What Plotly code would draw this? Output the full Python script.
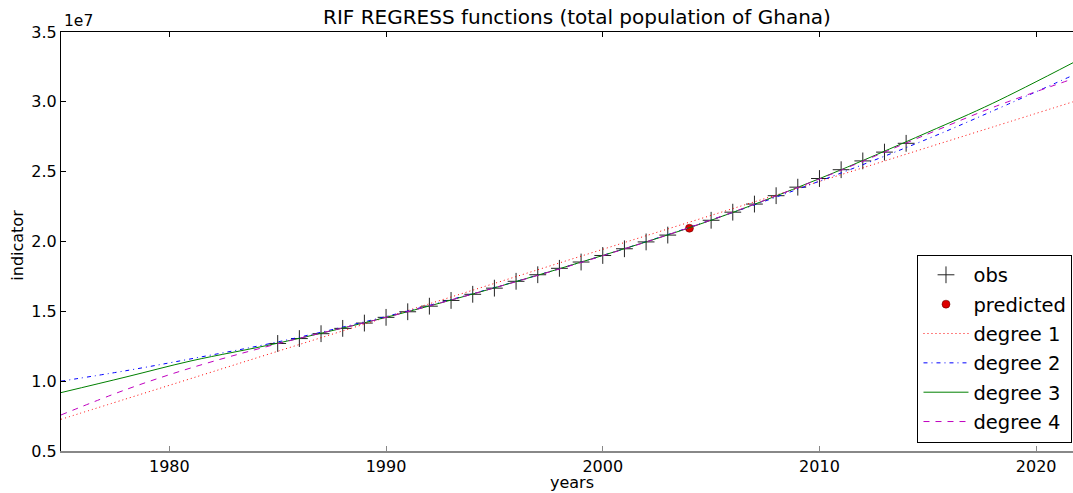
import plotly.graph_objects as go

# observed population (total population of Ghana), 2004 held out
obs_years = [1985, 1986, 1987, 1988, 1989, 1990, 1991, 1992, 1993, 1994,
             1995, 1996, 1997, 1998, 1999, 2000, 2001, 2002, 2003,
             2005, 2006, 2007, 2008, 2009, 2010, 2011, 2012, 2013, 2014]
obs_values = [12.70e6, 13.05e6, 13.40e6, 13.78e6, 14.16e6, 14.57e6, 14.97e6, 15.37e6,
              15.78e6, 16.22e6, 16.66e6, 17.15e6, 17.62e6, 18.08e6, 18.53e6, 19.00e6,
              19.48e6, 19.97e6, 20.46e6, 21.52e6, 22.10e6, 22.68e6, 23.28e6, 23.89e6,
              24.51e6, 25.14e6, 25.77e6, 26.40e6, 27.03e6]

pred_years = [2004]
pred_values = [20.95e6]

fit_years = [1975, 1978, 1981, 1985, 1990, 1995, 2000, 2005, 2010, 2015, 2018, 2021.7]
deg1_values = [7.27e6, 8.73e6, 10.19e6, 12.14e6, 14.57e6, 17.00e6, 19.44e6, 21.87e6,
               24.30e6, 26.74e6, 28.20e6, 30.00e6]
deg2_values = [10.00e6, 10.75e6, 11.60e6, 12.81e6, 14.63e6, 16.70e6, 19.00e6, 21.54e6,
               24.32e6, 27.35e6, 29.35e6, 31.90e6]
deg3_values = [9.18e6, 10.30e6, 11.45e6, 12.72e6, 14.57e6, 16.68e6, 19.00e6, 21.52e6,
               24.50e6, 27.82e6, 29.90e6, 32.80e6]
deg4_values = [7.58e6, 9.40e6, 10.95e6, 12.68e6, 14.57e6, 16.68e6, 18.98e6, 21.54e6,
               24.48e6, 27.70e6, 29.60e6, 31.65e6]

x_ticks = [1980, 1990, 2000, 2010, 2020]
y_ticks = [0.5e7, 1.0e7, 1.5e7, 2.0e7, 2.5e7, 3.0e7, 3.5e7]
y_tick_text = ["0.5", "1.0", "1.5", "2.0", "2.5", "3.0", "3.5"]

FONT = "DejaVu Sans"

fig = go.Figure()
fig.add_trace(go.Scatter(x=obs_years, y=obs_values, mode="markers", name="obs",
                         legendgroup="g1",
                         marker=dict(symbol="cross-thin", size=12, color="#222222",
                                     line=dict(width=1, color="#222222"))))
fig.add_trace(go.Scatter(x=pred_years, y=pred_values, mode="markers", name="predicted",
                         legendgroup="g2",
                         marker=dict(symbol="circle", size=8, color="#dd0000",
                                     line=dict(width=0.5, color="#550000"))))
fig.add_trace(go.Scatter(x=fit_years, y=deg1_values, mode="lines", name="degree 1",
                         legendgroup="g3",
                         line=dict(color="#ff0000", width=1, dash="1px,3px", shape="spline")))
fig.add_trace(go.Scatter(x=fit_years, y=deg2_values, mode="lines", name="degree 2",
                         legendgroup="g4",
                         line=dict(color="#0000ff", width=1, dash="4px,4px,1px,4px", shape="spline")))
fig.add_trace(go.Scatter(x=fit_years, y=deg3_values, mode="lines", name="degree 3",
                         legendgroup="g5",
                         line=dict(color="#008000", width=1, shape="spline")))
fig.add_trace(go.Scatter(x=fit_years, y=deg4_values, mode="lines", name="degree 4",
                         legendgroup="g6",
                         line=dict(color="#bf00bf", width=1, dash="6px,6px", shape="spline")))

fig.update_layout(
    width=1073, height=493,
    margin=dict(l=61, r=0, t=32, b=42),
    paper_bgcolor="white", plot_bgcolor="white",
    font=dict(family=FONT, size=15, color="black"),
    showlegend=True,
    legend=dict(x=0.9995, y=0.02, xanchor="right", yanchor="bottom",
                bordercolor="black", borderwidth=1, bgcolor="white",
                font=dict(family=FONT, size=19.5), traceorder="grouped",
                tracegroupgap=1, itemwidth=45),
    xaxis=dict(range=[1975, 2021.7], tickvals=x_ticks, ticks="inside", ticklen=5,
               tickcolor="#888888", showgrid=False, zeroline=False,
               showline=True, linecolor="#888888", linewidth=2, mirror=False,
               tickfont=dict(size=16)),
    yaxis=dict(range=[0.5e7, 3.5e7], tickvals=y_ticks, ticktext=y_tick_text,
               ticks="inside", ticklen=5, tickcolor="black", showgrid=False,
               zeroline=False, showline=True, linecolor="black", linewidth=1.2,
               tickfont=dict(size=16)),
    xaxis2=dict(overlaying="x", side="top", range=[1975, 2021.7], tickvals=x_ticks,
                ticks="inside", ticklen=5, tickcolor="black", showticklabels=False,
                showline=True, linecolor="black", linewidth=1.2, showgrid=False,
                zeroline=False),
    annotations=[
        dict(text="RIF REGRESS functions (total population of Ghana)", xref="paper",
             yref="paper", x=0.51, y=1, yshift=1, xanchor="center", yanchor="bottom",
             showarrow=False, font=dict(size=20)),
        dict(text="1e7", xref="paper", yref="paper", x=0, y=1, xshift=1,
             xanchor="left", yanchor="bottom", showarrow=False, font=dict(size=15.5)),
        dict(text="years", xref="paper", yref="paper", x=0.505, y=0, yshift=-43,
             xanchor="center", yanchor="bottom", showarrow=False, font=dict(size=16)),
        dict(text="indicator", xref="paper", yref="paper", x=0, xshift=-43, y=0.49,
             xanchor="center", yanchor="middle", textangle=-90, showarrow=False,
             font=dict(size=16)),
    ],
)
# dummy trace to show top axis
fig.add_trace(go.Scatter(x=[1975], y=[None], xaxis="x2", showlegend=False,
                         hoverinfo="skip"))

fig.write_html("out.html", config={"displayModeBar": False},
               post_script="document.body.style.margin='0';")
